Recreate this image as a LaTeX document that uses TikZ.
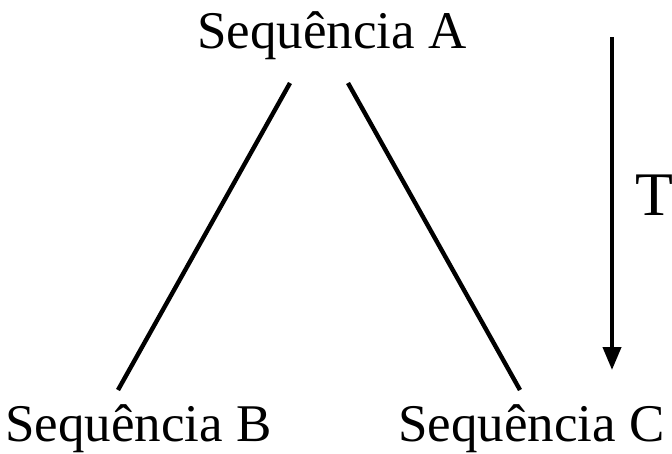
\documentclass[tikz,border=0pt]{standalone}
\usepackage{fontspec}
\setmainfont{Liberation Serif}
\usetikzlibrary{arrows.meta}
\tikzset{
  lbl/.style={font=\fontsize{53}{60}\selectfont, inner sep=0pt},
  tlbl/.style={font=\fontsize{62}{70}\selectfont, inner sep=0pt},
  branch/.style={line width=4.4pt, line cap=butt},
  timearrow/.style={line width=4pt, -{Triangle[length=23pt,width=18pt]}}
}
\begin{document}
\begin{tikzpicture}[x=1pt,y=-1pt]
\useasboundingbox (0,0) rectangle (672,453);
\node[lbl, anchor=base] (a) at (332,48) {Sequência A};
\node[lbl, anchor=base east] (b) at (272,441) {Sequência B};
\node[lbl, anchor=base west] (c) at (398,441) {Sequência C};
\node[tlbl, anchor=base west] (t) at (635,215) {T};
\coordinate (ab) at (290,83);
\coordinate (ac) at (348,83);
\coordinate (bt) at (118,390);
\coordinate (ct) at (520,390);
\coordinate (ttop) at (612,37);
\coordinate (tbot) at (612,370);
\draw[branch] (ab) -- (bt);
\draw[branch] (ac) -- (ct);
\draw[timearrow] (ttop) -- (tbot);
\end{tikzpicture}
\end{document}
